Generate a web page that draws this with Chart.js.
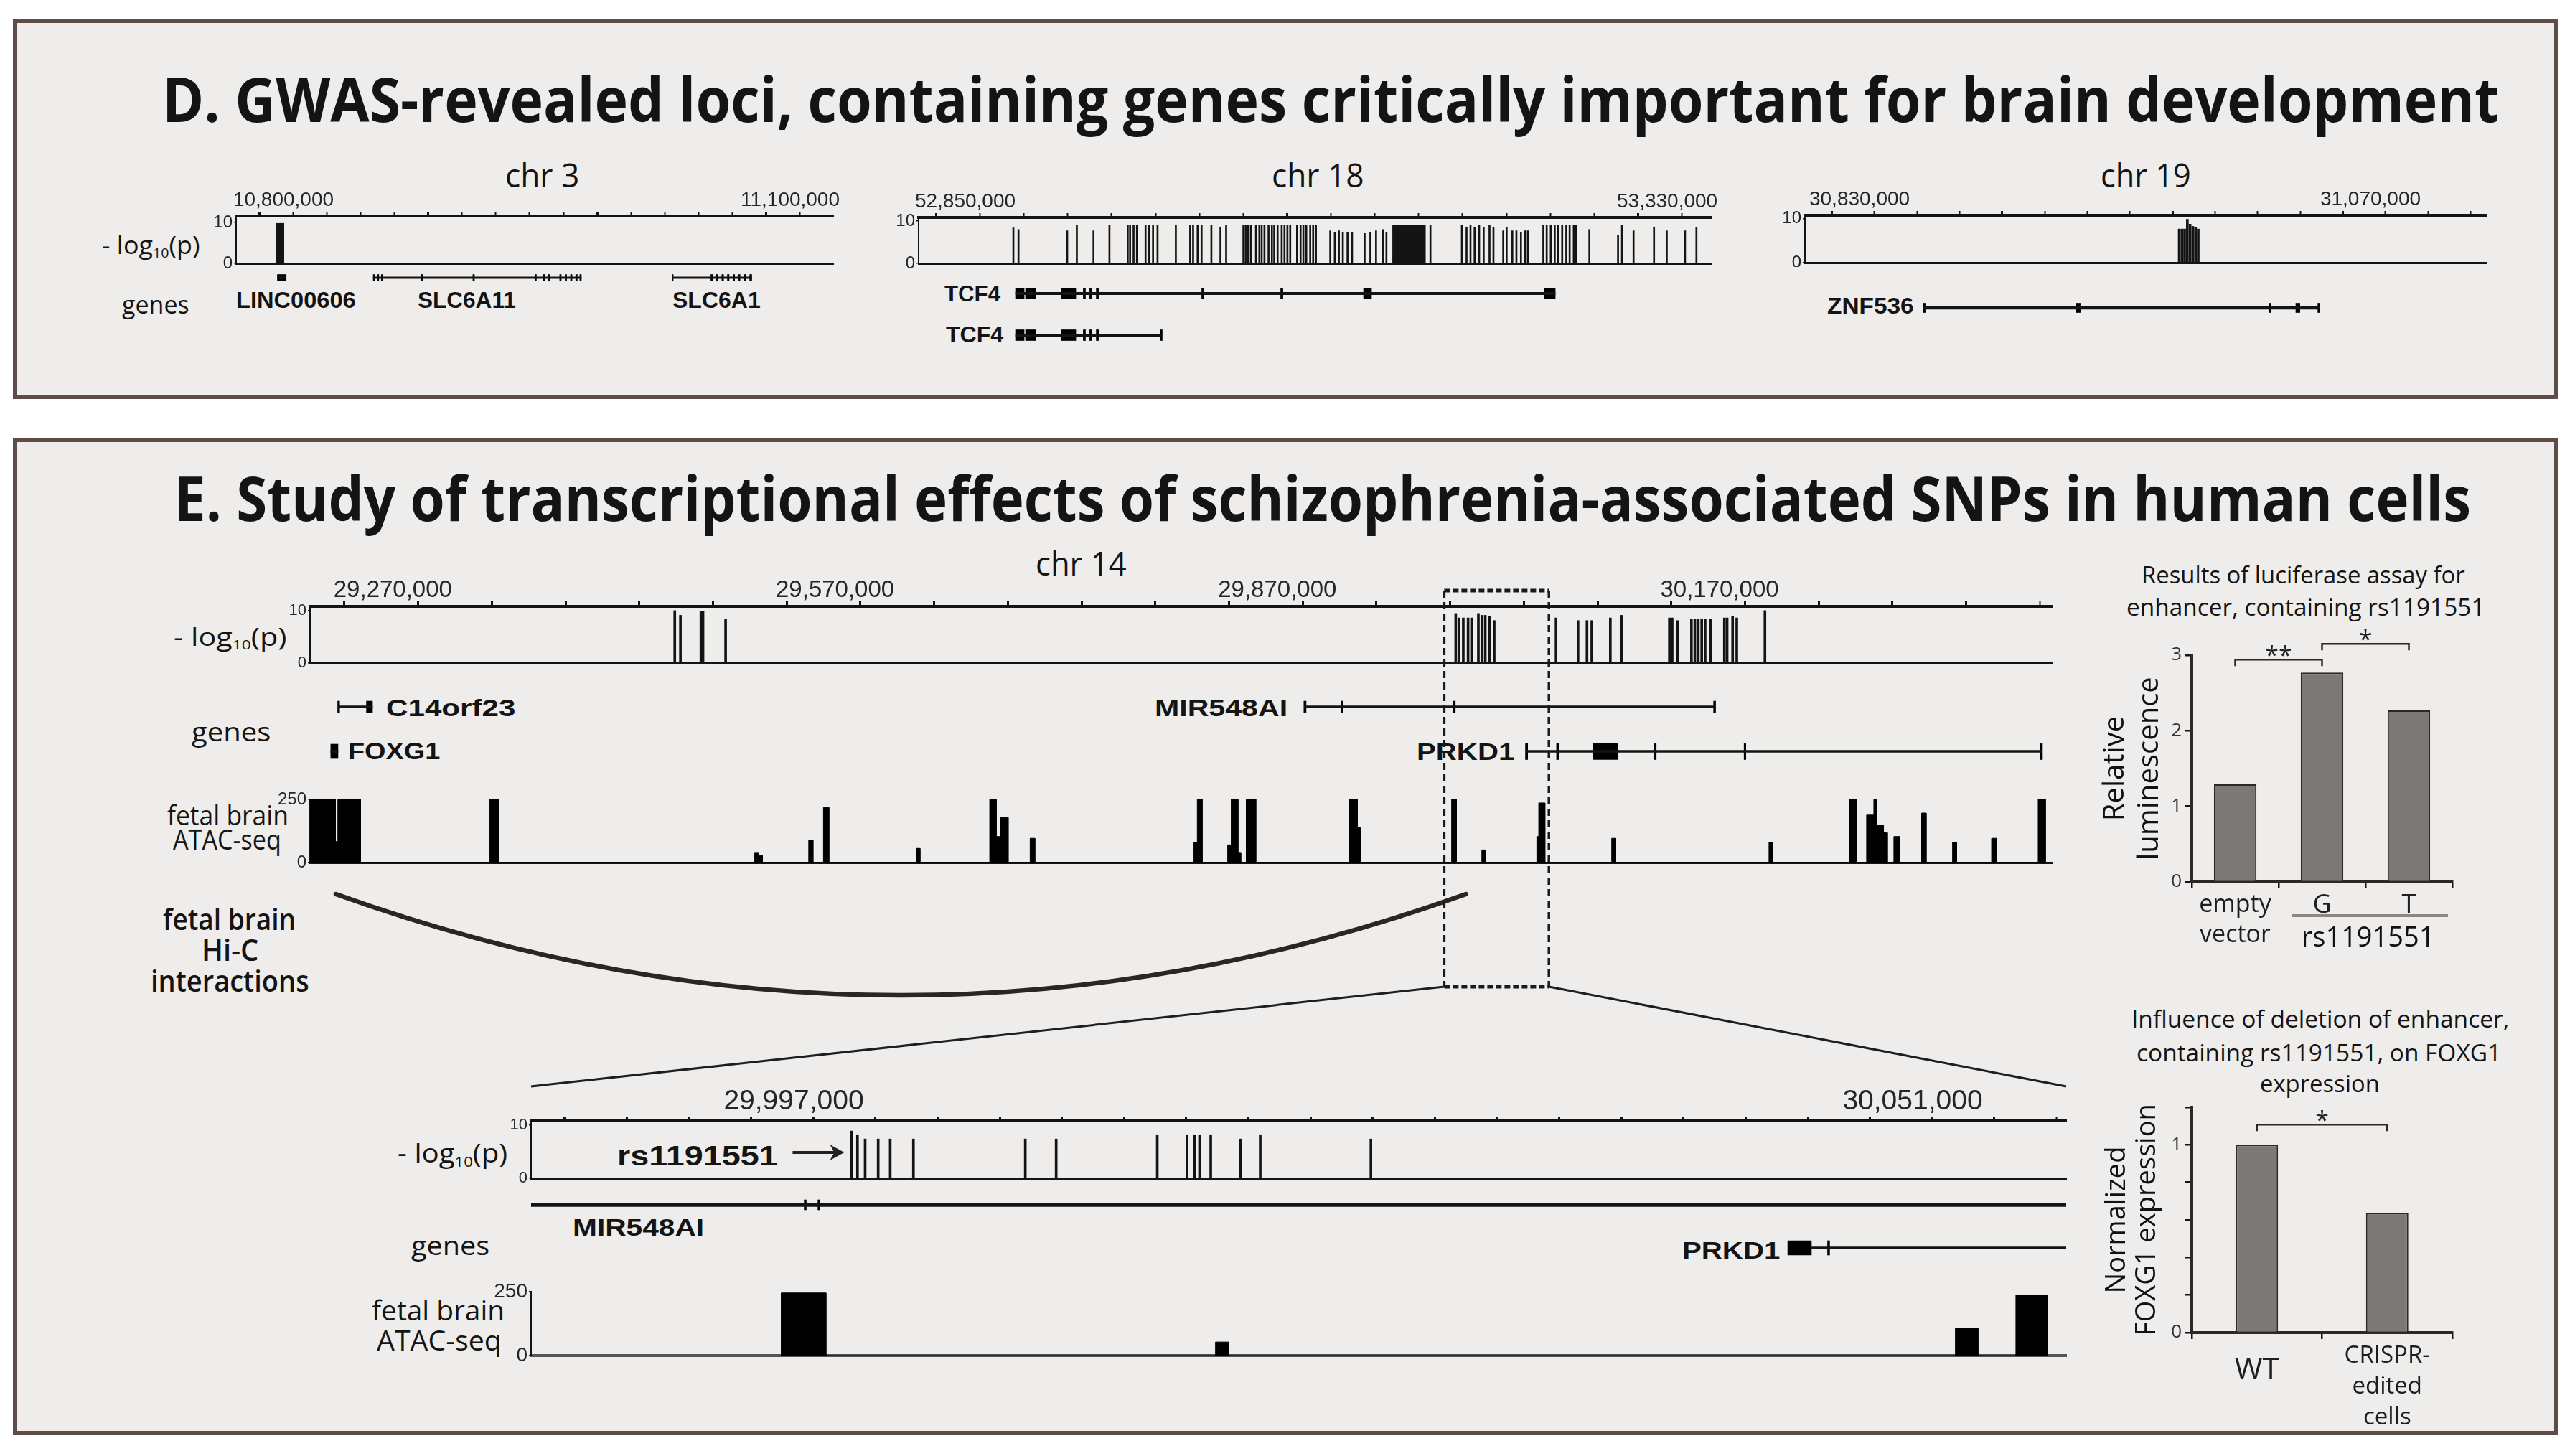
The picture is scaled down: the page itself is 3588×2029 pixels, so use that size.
<!DOCTYPE html>
<html>
<head>
<meta charset="utf-8">
<script src="https://cdn.jsdelivr.net/npm/chart.js@4.4.1/dist/chart.umd.min.js"></script>
<style>
  html, body { margin: 0; padding: 0; }
  body { width: 3588px; height: 2029px; background: #fff; position: relative; overflow: hidden; color: #141414; }
  .panel { position: absolute; background: #eeedeb; border: 6px solid #5e4c46; box-sizing: border-box; }
  .t { position: absolute; white-space: nowrap; line-height: 1; transform-origin: 0 0; }
  .t sub { font-size: 0.55em; vertical-align: -0.28em; line-height: 0; }
  .bl { display: inline-block; width: 0; height: 0; }
  canvas, svg { position: absolute; }
</style>
</head>
<body>
<div class="panel" style="left:18px;top:26px;width:3547px;height:530px"></div>
<div class="panel" style="left:18px;top:610px;width:3547px;height:1390px"></div>
<script>
const SANS = "'Open Sans', 'Noto Sans', sans-serif";
const NARROW = "'Liberation Sans', Arial, sans-serif";
const INK = '#141414';

// ---------- panel D, chr 3 ----------
const chr3Range = [10776200, 11129750];
const chr3Ticks = [20000, 100000];            // minor step, major step
const chr3TickLabels = [10800000, 11100000];
const chr3Snps = [[10800600, 9.8], [10801700, 9.8], [10802800, 9.8], [10803900, 9.8]];
const chr3Genes = [
  { name: 'LINC00606', row: 0, span: [10800640, 10805830], exons: [[10800640, 10805830]] },
  { name: 'SLC6A11', row: 0, span: [10857400, 10980600], exons: [[10857400, 10858300], [10859800, 10860700], [10862200, 10863100], [10885900, 10886800], [10916400, 10917300], [10953100, 10954000], [10958000, 10958900], [10961200, 10962100], [10967800, 10968700], [10971000, 10971900], [10974200, 10975100], [10977300, 10978200], [10979700, 10980600]] },
  { name: 'SLC6A1', row: 0, span: [11034300, 11081500], exons: [[11034300, 11035000], [11057300, 11058300], [11060600, 11061600], [11063800, 11064800], [11067100, 11068100], [11070400, 11071400], [11073600, 11074600], [11076900, 11077900], [11080300, 11081500]] }
];

// ---------- panel D, chr 18 ----------
const chr18Range = [52823000, 53365300];
const chr18Ticks = [30000, 240000];
const chr18TickLabels = [52850000, 53330000];
const chr18Snps = [
  [52887800, 8.4], [52891300, 8.0], [52924600, 7.7], [52931200, 9.0], [52942600, 7.7], [52953500, 9.0],
  [52966000, 9.0], [52967600, 9.0], [52970000, 9.0], [52972300, 9.0], [52978200, 9.0], [52980500, 9.0], [52983300, 9.0], [52986400, 9.0],
  [52998900, 9.0], [53008700, 9.0], [53010700, 9.0], [53013800, 9.0], [53016500, 9.0], [53023200, 9.0], [53029400, 8.6], [53033300, 9.0],
  [53045100, 9.0], [53046600, 9.0], [53048200, 9.0], [53050200, 9.0], [53053700, 9.0], [53056000, 9.0], [53057600, 9.0], [53059500, 9.0],
  [53062300, 9.0], [53064600, 9.0], [53066200, 9.0], [53068500, 9.0], [53071300, 9.0], [53073200, 9.0], [53075200, 9.0], [53077100, 9.0],
  [53081800, 9.0], [53084200, 9.0], [53086100, 9.0], [53088100, 9.0], [53090800, 9.0], [53092800, 9.0], [53094700, 9.0],
  [53104500, 7.7], [53107600, 7.4], [53110400, 7.7], [53113100, 7.4], [53116300, 7.4], [53119400, 7.4],
  [53128000, 7.1], [53131900, 7.4], [53135800, 7.7], [53140500, 8.0], [53142900, 7.4],
  [53147600, 9.0], [53148600, 9.0], [53149500, 9.0], [53150500, 9.0], [53151500, 9.0], [53152400, 9.0], [53153400, 9.0], [53154400, 9.0],
  [53155400, 9.0], [53156300, 9.0], [53157300, 9.0], [53158300, 9.0], [53159300, 9.0], [53160300, 9.0], [53161300, 9.0], [53162200, 9.0],
  [53163200, 9.0], [53164200, 9.0], [53165200, 9.0], [53166100, 9.0], [53167100, 9.0], [53168100, 9.0], [53169100, 9.0], [53173000, 9.0],
  [53194500, 9.0], [53197700, 8.6], [53200400, 9.0], [53203200, 8.6], [53206300, 9.0], [53209400, 8.6], [53213400, 9.0], [53216100, 8.6],
  [53222800, 7.7], [53225100, 8.6], [53229000, 7.7], [53231800, 7.7], [53234900, 7.4], [53237700, 7.7], [53239600, 7.7],
  [53250200, 9.0], [53252500, 9.0], [53255300, 9.0], [53258000, 9.0], [53260400, 9.0], [53263100, 9.0], [53265900, 9.0], [53268200, 9.0],
  [53271000, 9.0], [53272700, 9.0], [53281700, 8.0], [53301300, 6.6], [53304000, 9.0], [53311900, 7.7], [53325900, 8.6], [53334600, 7.7],
  [53347100, 7.7], [53354900, 8.6]
];
const chr18Genes = [
  { name: 'TCF4', row: 0, span: [52889260, 53258340], exons: [[52889260, 52895150], [52896130, 52903010], [52920680, 52930490], [52935600, 52937100], [52940000, 52941500], [52944500, 52946000], [53016600, 53018100], [53070600, 53072100], [53127300, 53132700], [53250980, 53258340]] },
  { name: 'TCF4', row: 1, span: [52889260, 52988900], exons: [[52889260, 52895150], [52896130, 52903010], [52920680, 52930490], [52935600, 52937100], [52940000, 52941500], [52944500, 52946000], [52988100, 52989600]] }
];

// ---------- panel D, chr 19 ----------
const chr19Range = [30807400, 31127640];
const chr19Ticks = [20000, 80000];
const chr19TickLabels = [30830000, 31070000];
const chr19Snps = [[30983200, 7.6], [30984480, 7.6], [30985730, 7.6], [30987010, 9.8], [30988290, 8.7], [30989570, 8.2], [30990850, 7.9], [30992130, 7.6]];
const chr19Genes = [
  { name: 'ZNF536', row: 0, span: [30863130, 31049100], exons: [[30862900, 30863900], [30934660, 30936720], [31025500, 31026400], [31037980, 31039870], [31048300, 31049300]] }
];

// ---------- panel E, chr 14 ----------
const chr14Range = [29221640, 30403150];
const chr14Ticks = [50000, 50000];
const chr14TickLabels = [29270000, 29570000, 29870000, 30170000];
const chr14Snps = [
  [29469050, 10.0], [29472900, 9.1], [29486800, 9.8], [29488200, 9.8], [29503550, 8.35],
  [29998800, 9.45], [30001130, 8.6], [30003930, 8.6], [30007190, 8.6], [30009520, 8.6], [30014180, 9.45], [30016510, 9.1], [30018840, 9.1], [30021640, 8.9], [30024900, 8.1],
  [30066850, 8.6], [30081760, 8.1], [30087820, 8.1], [30091090, 8.1], [30103670, 8.6], [30111130, 9.1],
  [30143750, 8.6], [30145620, 8.6], [30149350, 8.1], [30158670, 8.35], [30161000, 8.35], [30163330, 8.35], [30165660, 8.35], [30167990, 8.35], [30171720, 8.35],
  [30181040, 8.6], [30182900, 8.6], [30186630, 8.9], [30189430, 8.6], [30208540, 10.0]
];
const chr14Genes = [
  { name: 'C14orf23', row: 0, span: [29240630, 29264000], exons: [[29240400, 29241700], [29259900, 29264000]] },
  { name: 'FOXG1', row: 1, span: [29235700, 29240600], exons: [[29235700, 29240600]] },
  { name: 'MIR548AI', row: 0, span: [29896070, 30174900], exons: [[29895800, 29897300], [29921300, 29922500], [29997300, 29998500], [30173700, 30175100]] },
  { name: 'PRKD1', row: 1, span: [30046800, 30396330], exons: [[30046100, 30047600], [30067200, 30068700], [30091990, 30108790], [30133300, 30134800], [30194400, 30195600], [30395300, 30396800]] }
];
// ATAC peaks: [start, end, signal]
const chr14Atac = [
  [29221700, 29238900, 250], [29238900, 29240500, 83], [29240500, 29255900, 250], [29343400, 29349700, 250],
  [29523100, 29526000, 40], [29526000, 29528500, 28], [29559900, 29562800, 88], [29569900, 29573600, 218],
  [29633000, 29635400, 56], [29682700, 29687100, 250], [29687100, 29689900, 103], [29689900, 29695200, 178],
  [29710100, 29713300, 96], [29821200, 29823500, 80], [29823500, 29826800, 250], [29844100, 29846500, 70],
  [29846500, 29851100, 250], [29851100, 29853000, 40], [29856700, 29863200, 250], [29926500, 29932000, 250],
  [29932000, 29934000, 138], [29996000, 29999300, 250], [30016500, 30018900, 50], [30053800, 30055100, 103],
  [30055100, 30059300, 236], [30104600, 30107400, 96], [30211300, 30213700, 80], [30265800, 30270700, 250],
  [30277500, 30282400, 188], [30282400, 30284300, 250], [30284300, 30289000, 148], [30289000, 30291600, 118],
  [30296000, 30299900, 103], [30314800, 30317900, 196], [30335800, 30338600, 80], [30362300, 30365700, 96],
  [30393900, 30398800, 250]
];
const hicLinks = [[29239170, 30005740]];
const focusRegion = [29991000, 30062000];

// ---------- panel E, zoomed region ----------
const zoomRange = [29984877, 30058967];
const zoomTicks = [3000, 3000];
const zoomTickLabels = [29997000, 30051000];
const leadSnp = 30000340; // rs1191551
const zoomSnps = [
  [30000340, 8.9], [30000630, 8.2], [30001000, 7.4], [30001630, 7.4], [30002210, 7.4], [30003330, 7.4],
  [30008730, 7.4], [30010220, 7.4], [30015100, 8.2], [30016530, 8.2], [30016910, 8.2], [30017140, 8.2],
  [30017680, 8.2], [30019120, 7.4], [30020070, 8.2], [30025410, 7.4]
];
const zoomGenes = [
  { name: 'MIR548AI', row: 0, span: [29984877, 30058967], exons: [[29998060, 29998160], [29998720, 29998820]] },
  { name: 'PRKD1', row: 1, span: [30046670, 30058967], exons: [[30045530, 30046670], [30047450, 30047550]] }
];
const zoomAtac = [[29996950, 29999110, 245], [30017910, 30018550, 53], [30053620, 30054710, 107], [30056540, 30058050, 236]];

// ---------- bar charts ----------
const lucLabels = [['empty', 'vector'], 'G', 'T'];
const lucValues = [1.29, 2.77, 2.27];
const lucSig = [[0, 1, 2.94, '**'], [1, 2, 3.15, '*']];
const lucGroup = ['rs1191551', 1, 2];
const foxLabels = ['WT', ['CRISPR-', 'edited', 'cells']];
const foxValues = [1.0, 0.636];
const foxSig = [[0, 1, 1.107, '*']];
const foxTickLabels = [0, 1];

const texts = [
  ['D. GWAS-revealed loci, containing genes critically important for brain development', 226, 3482, 170, 86, 700, SANS],
  ['chr 3', 704, 807, 261, 46, 400, SANS],
  ['chr 18', 1772, 1901, 261, 46, 400, SANS],
  ['chr 19', 2927, 3053, 261, 46, 400, SANS],
  ['- log<sub>10</sub>(p)', 142, 279, 354, 34, 400, SANS],
  ['genes', 170, 264, 437, 34, 400, SANS],
  ['LINC00606', 329, 496, 429, 32, 700, NARROW],
  ['SLC6A11', 582, 719, 429, 32, 700, NARROW],
  ['SLC6A1', 937, 1060, 429, 32, 700, NARROW],
  ['TCF4', 1316, 1394, 420, 32, 700, NARROW],
  ['TCF4', 1318, 1398, 477, 32, 700, NARROW],
  ['ZNF536', 2546, 2667, 437, 32, 700, NARROW],
  ['E. Study of transcriptional effects of schizophrenia-associated SNPs in human cells', 243, 3443, 726, 86, 700, SANS],
  ['chr 14', 1443, 1570, 802, 46, 400, SANS],
  ['- log<sub>10</sub>(p)', 242, 400, 900, 34, 400, SANS],
  ['genes', 267, 377, 1033, 36, 400, SANS],
  ['C14orf23', 538, 719, 998, 34, 700, NARROW],
  ['FOXG1', 485, 613, 1058, 34, 700, NARROW],
  ['MIR548AI', 1609, 1794, 998, 34, 700, NARROW],
  ['PRKD1', 1974, 2110, 1059, 34, 700, NARROW],
  ['fetal brain', 233, 402, 1150, 38, 400, SANS],
  ['ATAC-seq', 241, 392, 1184, 38, 400, SANS],
  ['fetal brain', 227, 412, 1296, 42, 600, SANS],
  ['Hi-C', 281, 360, 1339, 42, 600, SANS],
  ['interactions', 210, 431, 1382, 42, 600, SANS],
  ['- log<sub>10</sub>(p)', 554, 707, 1620, 36, 400, SANS],
  ['rs1191551', 860, 1084, 1624, 38, 700, NARROW],
  ['MIR548AI', 798, 981, 1722, 34, 700, NARROW],
  ['genes', 573, 682, 1749, 36, 400, SANS],
  ['PRKD1', 2344, 2480, 1754, 34, 700, NARROW],
  ['fetal brain', 518, 703, 1840, 38, 400, SANS],
  ['ATAC-seq', 525, 699, 1882, 38, 400, SANS],
  ['Results of luciferase assay for', 2984, 3435, 813, 32, 400, SANS],
  ['enhancer, containing rs1191551', 2963, 3462, 858, 32, 400, SANS],
  ['Influence of deletion of enhancer,', 2970, 3496, 1432, 32, 400, SANS],
  ['containing rs1191551, on FOXG1', 2977, 3485, 1479, 32, 400, SANS],
  ['expression', 3149, 3316, 1522, 32, 400, SANS]
];

// ---------- helpers ----------
const base = {
  animation: false, responsive: false, devicePixelRatio: 1, events: [],
  plugins: { legend: { display: false }, tooltip: { enabled: false } }
};
const fitH = h => s => { s.height = h; s.paddingLeft = s.paddingRight = s.paddingTop = s.paddingBottom = 0; };
const fitW = w => s => { s.width = w; s.paddingLeft = s.paddingRight = s.paddingTop = s.paddingBottom = 0; };
const pick = (m, k) => (m[k] !== undefined ? m[k] : m.def);
const near = (v, list) => list.find(t => Math.abs(t - v) < 1e-6);

// evenly stepped genomic ticks inside the axis range, anchored on a labelled position
function stepTicks(range, step, anchor) {
  const out = [];
  let v = anchor - Math.floor((anchor - range[0]) / step) * step;
  for (; v <= range[1]; v += step) out.push({ value: v });
  return out;
}

function putText([html, left, right, baseline, size, weight, family]) {
  const d = document.createElement('div');
  d.className = 't';
  d.style.font = `${weight} ${size}px ${family}`;
  d.innerHTML = html + '<span class="bl"></span>';
  d.style.left = left + 'px';
  d.style.top = '0px';
  document.body.appendChild(d);
  const blY = d.querySelector('.bl').offsetTop;
  d.style.top = (baseline - blY) + 'px';
  d.style.transform = `scaleX(${((right - left) / d.offsetWidth).toFixed(4)})`;
}

function makeCanvas(area, m) {
  const [x, y, w, h] = area;
  const c = document.createElement('canvas');
  c.width = w + m.l + m.r;
  c.height = h + m.t + m.b;
  c.style.left = (x - m.l) + 'px';
  c.style.top = (y - m.t) + 'px';
  document.body.appendChild(c);
  return c;
}

function bottomLine(range, width, color) {
  return {
    type: 'linear', axis: 'x', position: 'bottom', min: range[0], max: range[1], offset: false,
    ticks: { display: false }, grid: { display: false, drawTicks: false },
    border: { width, color }, afterFit: fitH(0)
  };
}

function gwasTrack(area, range, ticks, tickLabels, snps, st) {
  const m = { l: st.yw, r: 14, t: st.xh, b: 6 };
  const cv = makeCanvas(area, m);
  const isMajor = ctx => ctx.tick && Math.abs((ctx.tick.value - tickLabels[0]) % ticks[1]) < 1;
  return new Chart(cv, {
    type: 'bar',
    data: { datasets: [{ data: snps.map(([x, y]) => ({ x, y })), backgroundColor: INK, barThickness: st.bar, grouped: false }] },
    options: {
      ...base,
      layout: { padding: { left: 0, right: m.r, top: 0, bottom: m.b } },
      scales: {
        x: {
          type: 'linear', position: 'top', min: range[0], max: range[1], offset: false,
          afterBuildTicks: s => { s.ticks = stepTicks(range, ticks[0], tickLabels[0]); },
          ticks: {
            autoSkip: false, maxRotation: 0, padding: st.pad, labelOffset: st.lo,
            font: { family: NARROW, size: st.fs }, color: '#262626',
            callback: v => { const t = near(v, tickLabels); return t === undefined ? '' : t.toLocaleString('en-US'); }
          },
          grid: { drawOnChartArea: false, tickLength: st.tl, color: INK, tickWidth: ctx => (isMajor(ctx) ? 3 : 2) },
          border: { width: 4, color: INK },
          afterFit: fitH(m.t)
        },
        xb: bottomLine(range, 3, INK),
        y: {
          min: 0, max: st.ymax,
          ticks: { stepSize: 10, includeBounds: false, padding: 2, font: { family: NARROW, size: st.yfs }, color: '#262626' },
          grid: { drawOnChartArea: false, tickLength: 3, color: INK, lineWidth: 1.5 },
          border: { width: 2, color: INK },
          afterFit: fitW(m.l)
        }
      }
    }
  });
}

function geneTrack(area, range, genes, style) {
  const cv = makeCanvas(area, { l: 0, r: 0, t: 0, b: 0 });
  const rows = Math.max(...genes.map(g => g.row)) + 1;
  const datasets = [];
  genes.forEach(g => {
    const y = g.row + 0.5;
    datasets.push({ data: [{ x: g.span, y }], barThickness: pick(style.line, g.name), backgroundColor: INK, grouped: false });
    datasets.push({ data: g.exons.map(e => ({ x: e, y })), barThickness: pick(style.exon, g.name), backgroundColor: '#000', grouped: false });
  });
  return new Chart(cv, {
    type: 'bar',
    data: { datasets },
    options: {
      ...base, indexAxis: 'y', layout: { padding: 0 },
      scales: {
        x: { type: 'linear', min: range[0], max: range[1], display: false, offset: false },
        y: { type: 'linear', min: 0, max: rows, reverse: true, display: false, offset: false }
      }
    }
  });
}

function atacTrack(area, range, peaks, st) {
  const m = { l: st.yw, r: 14, t: 18, b: 8 };
  const cv = makeCanvas(area, m);
  const pts = peaks.flatMap(([s, e, h]) => [{ x: s, y: 0 }, { x: s, y: h }, { x: e, y: h }, { x: e, y: 0 }]);
  return new Chart(cv, {
    type: 'line',
    data: { datasets: [{ data: pts, borderColor: '#000', borderWidth: 1, backgroundColor: '#000', fill: 'origin', pointRadius: 0, tension: 0 }] },
    options: {
      ...base,
      layout: { padding: { left: 0, right: m.r, top: m.t, bottom: m.b } },
      scales: {
        x: { type: 'linear', min: range[0], max: range[1], display: false, offset: false },
        xb: bottomLine(range, st.baseW, st.baseC),
        y: {
          min: 0, max: 250,
          ticks: { stepSize: 250, padding: 2, font: { family: NARROW, size: st.yfs }, color: '#262626' },
          grid: { drawOnChartArea: false, tickLength: 3, color: INK, lineWidth: 1.5 },
          border: { width: 2, color: INK },
          afterFit: fitW(m.l)
        }
      }
    }
  });
}

function hicTrack(area, range, links, depth) {
  const cv = makeCanvas(area, { l: 0, r: 0, t: 0, b: 0 });
  return new Chart(cv, {
    type: 'scatter',
    data: { datasets: [{ data: [] }] },
    options: {
      ...base, layout: { padding: 0 },
      scales: {
        x: { type: 'linear', min: range[0], max: range[1], display: false },
        y: { min: 0, max: 1, display: false }
      }
    },
    plugins: [{
      id: 'hicArcs',
      afterDatasetsDraw(chart) {
        const { ctx, chartArea, scales: { x } } = chart;
        ctx.save();
        ctx.strokeStyle = '#2b2523';
        ctx.lineWidth = 6.5;
        ctx.lineCap = 'round';
        links.forEach(([a, b]) => {
          const x1 = x.getPixelForValue(a), x2 = x.getPixelForValue(b), y0 = chartArea.top + 6;
          ctx.beginPath();
          ctx.moveTo(x1, y0);
          ctx.quadraticCurveTo((x1 + x2) / 2, y0 + 2 * depth, x2, y0);
          ctx.stroke();
        });
        ctx.restore();
      }
    }]
  });
}

const sigPlugin = sig => ({
  id: 'sig',
  afterDraw(chart) {
    const { ctx, scales: { x, y } } = chart;
    ctx.save();
    ctx.strokeStyle = '#2e2725';
    ctx.lineWidth = 2.5;
    ctx.fillStyle = '#222';
    ctx.font = `400 34px ${SANS}`;
    ctx.textAlign = 'center';
    sig.forEach(([a, b, v, mark]) => {
      const x1 = x.getPixelForValue(a), x2 = x.getPixelForValue(b), yy = y.getPixelForValue(v);
      ctx.beginPath();
      ctx.moveTo(x1, yy + 9); ctx.lineTo(x1, yy); ctx.lineTo(x2, yy); ctx.lineTo(x2, yy + 9);
      ctx.stroke();
      ctx.fillText(mark, (x1 + x2) / 2, yy + 6);
    });
    ctx.restore();
  }
});

const groupPlugin = ([label, a, b]) => ({
  id: 'group',
  afterDraw(chart) {
    const { ctx, chartArea, scales: { x } } = chart;
    ctx.save();
    ctx.strokeStyle = '#8a8785';
    ctx.lineWidth = 4;
    ctx.beginPath();
    ctx.moveTo(x.getPixelForValue(a - 0.35), chartArea.bottom + 47);
    ctx.lineTo(x.getPixelForValue(b + 0.45), chartArea.bottom + 47);
    ctx.stroke();
    ctx.fillStyle = '#111';
    ctx.font = `400 38px ${SANS}`;
    ctx.textAlign = 'center';
    ctx.fillText(label, x.getPixelForValue((a + b) / 2 + 0.03), chartArea.bottom + 90);
    ctx.restore();
  }
});

function assayChart(area, labels, values, st, plugins) {
  const m = st.m;
  const cv = makeCanvas(area, m);
  return new Chart(cv, {
    type: 'bar',
    data: { labels, datasets: [{ data: values, backgroundColor: '#7b7977', borderColor: '#2e2725', borderWidth: 2, barPercentage: st.bp, categoryPercentage: 1 }] },
    options: {
      ...base,
      layout: { padding: { left: m.l - st.yw, right: m.r, top: m.t, bottom: m.b - st.xh } },
      scales: {
        x: {
          grid: { offset: true, drawOnChartArea: false, tickLength: 9, color: INK, lineWidth: 2.5 },
          border: { width: 4, color: '#2e2725' },
          ticks: { padding: 2, color: '#1e1e1e', font: st.xfont },
          afterFit: fitH(st.xh)
        },
        y: {
          min: 0, max: st.ymax,
          ticks: { stepSize: st.ystep, padding: 5, color: '#333', font: { family: SANS, size: 26 }, callback: st.ycb },
          grid: { drawOnChartArea: false, tickLength: 9, color: INK, lineWidth: 2.5 },
          border: { width: 4, color: '#2e2725' },
          title: { display: true, text: st.title, color: '#111', padding: 0, font: { family: SANS, size: st.tsize, lineHeight: st.tlh } },
          afterFit: fitW(st.yw)
        }
      }
    },
    plugins
  });
}

function overlay(c14, cz) {
  const ns = 'http://www.w3.org/2000/svg';
  const svg = document.createElementNS(ns, 'svg');
  svg.setAttribute('width', 3588);
  svg.setAttribute('height', 2029);
  svg.style.left = '0px';
  svg.style.top = '0px';
  const add = (tag, attrs) => {
    const el = document.createElementNS(ns, tag);
    Object.entries(attrs).forEach(([k, v]) => el.setAttribute(k, v));
    svg.appendChild(el);
  };
  const px = (ch, v) => ch.scales.x.getPixelForValue(v) + parseFloat(ch.canvas.style.left);
  const L = px(c14, focusRegion[0]), R = px(c14, focusRegion[1]);
  const top = 823, bot = 1375;
  const side = { stroke: '#1a1a1a', 'stroke-width': 3.5, 'stroke-dasharray': '10 6', fill: 'none' };
  const dots = { stroke: '#1a1a1a', 'stroke-width': 5, 'stroke-dasharray': '8 4', fill: 'none' };
  add('line', { x1: L, y1: top, x2: L, y2: bot, ...side });
  add('line', { x1: R, y1: top, x2: R, y2: bot, ...side });
  add('line', { x1: L, y1: top, x2: R, y2: top, ...dots });
  add('line', { x1: L, y1: bot, x2: R, y2: bot, ...dots });
  const zl = cz.chartArea.left + parseFloat(cz.canvas.style.left);
  const zr = cz.chartArea.right + parseFloat(cz.canvas.style.left);
  const proj = { stroke: '#1e1e1e', 'stroke-width': 3 };
  add('line', { x1: L, y1: bot, x2: zl, y2: 1514, ...proj });
  add('line', { x1: R, y1: bot, x2: zr, y2: 1514, ...proj });
  const tip = px(cz, leadSnp) - 10, ay = 1606;
  add('line', { x1: tip - 72, y1: ay, x2: tip - 10, y2: ay, stroke: '#222', 'stroke-width': 4 });
  add('polygon', { points: `${tip},${ay} ${tip - 20},${ay - 11} ${tip - 14},${ay} ${tip - 20},${ay + 11}`, fill: '#222' });
  document.body.appendChild(svg);
}

function build() {
  texts.forEach(putText);

  const dStyle = { yw: 60, xh: 50, bar: 3, fs: 28, pad: -1, tl: 6, yfs: 24, lo: 10 };
  gwasTrack([329, 301, 832, 66], chr3Range, chr3Ticks, chr3TickLabels, chr3Snps, { ...dStyle, ymax: 11.6 });
  geneTrack([329, 367, 832, 40], chr3Range, chr3Genes, { line: { def: 2.5 }, exon: { def: 9 } });
  gwasTrack([1280, 303, 1105, 64], chr18Range, chr18Ticks, chr18TickLabels, chr18Snps, { ...dStyle, bar: 2, ymax: 10.85 });
  geneTrack([1280, 380, 1105, 116], chr18Range, chr18Genes, { line: { def: 3.5 }, exon: { def: 15 } });
  gwasTrack([2515, 300, 950, 66], chr19Range, chr19Ticks, chr19TickLabels, chr19Snps, { ...dStyle, lo: 9, ymax: 10.7 });
  geneTrack([2515, 409, 950, 40], chr19Range, chr19Genes, { line: { def: 4 }, exon: { def: 13 } });

  const c14 = gwasTrack([432, 845, 2427, 79], chr14Range, chr14Ticks, chr14TickLabels, chr14Snps,
    { yw: 60, xh: 55, bar: 3, fs: 33, pad: -5, tl: 7, yfs: 22, ymax: 10.8, lo: 16 });
  geneTrack([432, 954, 2427, 124], chr14Range, chr14Genes, { line: { def: 3 }, exon: { def: 16, PRKD1: 23, FOXG1: 20 } });
  atacTrack([432, 1114, 2427, 88], chr14Range, chr14Atac, { yw: 60, yfs: 24, baseW: 3, baseC: INK });
  hicTrack([432, 1240, 2427, 160], chr14Range, hicLinks, 141);

  const cz = gwasTrack([740, 1562, 2139, 80], zoomRange, zoomTicks, zoomTickLabels, zoomSnps,
    { yw: 60, xh: 60, bar: 3, fs: 39, pad: -3, tl: 6, yfs: 22, ymax: 10.8, lo: 16 });
  geneTrack([740, 1649, 2139, 120], zoomRange, zoomGenes, { line: { def: 3, MIR548AI: 5 }, exon: { def: 20, MIR548AI: 14 } });
  atacTrack([740, 1800, 2139, 89], zoomRange, zoomAtac, { yw: 60, yfs: 28, baseW: 4, baseC: '#555' });

  assayChart([3054, 913, 363, 316], lucLabels, lucValues, {
    m: { l: 134, r: 20, t: 110, b: 120 }, yw: 130, xh: 110, bp: 0.49, ymax: 3, ystep: 1,
    title: ['Relative', 'luminescence'], tsize: 40, tlh: 1.2,
    xfont: ctx => (ctx.index === 0 ? { family: SANS, size: 34, lineHeight: 1.25 } : { family: SANS, size: 36, lineHeight: 1.2 })
  }, [sigPlugin(lucSig), groupPlugin(lucGroup)]);

  assayChart([3054, 1543, 363, 314], foxLabels, foxValues, {
    m: { l: 130, r: 20, t: 40, b: 140 }, yw: 125, xh: 135, bp: 0.325, ymax: 1.2, ystep: 0.2,
    ycb: v => { const t = near(v, foxTickLabels); return t === undefined ? '' : String(t); },
    title: ['Normalized', 'FOXG1 expression'], tsize: 38, tlh: 1.1,
    xfont: ctx => (ctx.index === 0 ? { family: SANS, size: 42, lineHeight: 2.0 } : { family: SANS, size: 33, lineHeight: 1.3 })
  }, [sigPlugin(foxSig)]);

  overlay(c14, cz);
}

Promise.all([
  document.fonts.load(`700 86px ${SANS}`),
  document.fonts.load(`400 40px ${SANS}`),
  document.fonts.load(`600 40px ${SANS}`),
  document.fonts.load(`700 32px ${NARROW}`),
  document.fonts.load(`400 32px ${NARROW}`)
]).catch(() => {}).then(build);
</script>
</body>
</html>
